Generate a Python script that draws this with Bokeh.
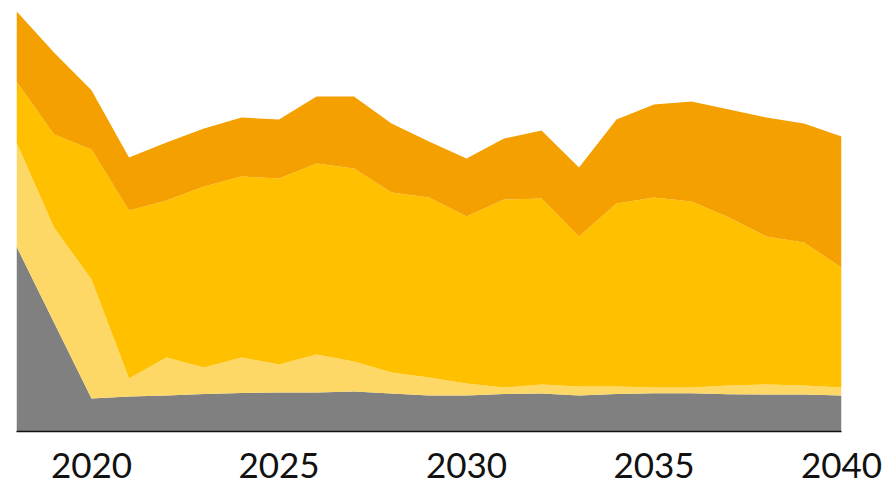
from bokeh.plotting import figure
from bokeh.models import Range1d, FixedTicker, ColumnDataSource
from bokeh.embed import file_html
from bokeh.resources import INLINE

years = list(range(2018, 2041))
gray = [185, 109, 33, 35, 36, 37.5, 38.5, 39, 39, 40, 38, 36, 36, 37.5, 38, 36, 37.5, 38.3, 38.3, 37.3, 37, 37, 36]
light_yellow = [104, 95, 119, 18, 38, 26.5, 35.5, 28, 38, 30, 21, 18, 12, 6.5, 9, 9, 7.5, 5.7, 5.7, 8.7, 10, 9, 8]
yellow = [61, 93, 130, 168, 157, 181, 181, 186, 191, 193, 180, 180, 167, 188, 186, 150, 183, 190, 186, 168, 148, 143, 120]
dark_orange = [70.3, 82, 59.3, 53, 58, 58, 59, 59, 67, 72, 69, 56, 58, 61, 68, 69, 84, 93, 100, 108, 119, 119, 131]
tick_years = [2020, 2025, 2030, 2035, 2040]

series = ["gray", "light_yellow", "yellow", "dark_orange"]
colors = ["#808080", "#FDD866", "#FFC000", "#F4A000"]

src = ColumnDataSource(dict(x=years, gray=gray, light_yellow=light_yellow,
                            yellow=yellow, dark_orange=dark_orange))

p = figure(width=885, height=484, output_backend="svg", toolbar_location=None,
           x_range=Range1d(2018, 2040), y_range=Range1d(0, 431),
           y_axis_location=None, min_border_left=16, min_border_right=44,
           min_border_top=0, min_border_bottom=53)

p.varea_stack(stackers=series, x="x", color=colors, source=src)

p.grid.visible = False
p.outline_line_color = None
ax = p.xaxis[0]
ax.ticker = FixedTicker(ticks=tick_years)
ax.major_tick_line_color = None
ax.minor_tick_line_color = None
ax.major_tick_out = 0
ax.major_tick_in = 0
ax.axis_line_color = "#111111"
ax.axis_line_width = 1.5
ax.major_label_text_font = "Lato"
ax.major_label_text_font_size = "35px"
ax.major_label_text_color = "#111111"
ax.major_label_text_line_height = 0.9
ax.major_label_standoff = 21

open("out.html", "w").write(file_html(p, INLINE))
